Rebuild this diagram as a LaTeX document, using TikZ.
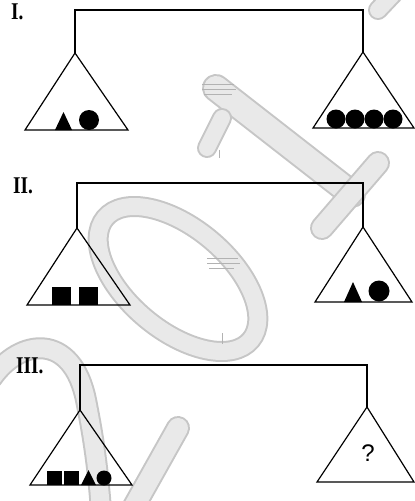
\documentclass[tikz,border=0pt]{standalone}
\usepackage{fontspec}
\newfontfamily\qfont{Liberation Sans}
\newfontfamily\lblfont{Liberation Serif}
\begin{document}
\begin{tikzpicture}[x=1pt,y=-1pt,
  beam/.style={line width=1.4pt, draw=black},
  pan/.style={line width=1.2pt, draw=black, line join=miter},
  wmedge/.style={draw=gray!45, line width=#1, line cap=round},
  wmfill/.style={draw=gray!17, line width=#1, line cap=round},
  wmline/.style={draw=gray!60, line width=1pt},
  lbl/.style={font=\lblfont\bfseries\fontsize{24}{24}\selectfont, xscale=0.8, inner sep=0pt},
  qmark/.style={font=\qfont\fontsize{24}{24}\selectfont, inner sep=0pt}]
\useasboundingbox (0,0) rectangle (415,501);

% ---------- watermark (light gray) ----------
\draw[wmedge=28pt] (216,88) -- (352,194);
\draw[wmfill=24pt] (216,88) -- (352,194);
\draw[wmedge=20pt] (222,118) -- (207,148);
\draw[wmfill=16pt] (222,118) -- (207,148);
\draw[wmedge=24pt] (378,163) -- (322,228);
\draw[wmfill=20pt] (378,163) -- (322,228);
\draw[wmedge=20pt] (395,-8) -- (378,10);
\draw[wmfill=16pt] (395,-8) -- (378,10);
\draw[draw=gray!45, line width=21pt, rotate around={-40:(178,279)}] (178,279) ellipse [x radius=95pt, y radius=51pt];
\draw[draw=gray!17, line width=17pt, rotate around={-40:(178,279)}] (178,279) ellipse [x radius=95pt, y radius=51pt];
\draw[wmedge=22pt] (-8,378) .. controls (20,338) and (72,332) .. (86,400) .. controls (94,440) and (98,470) .. (101,510);
\draw[wmfill=18pt] (-8,378) .. controls (20,338) and (72,332) .. (86,400) .. controls (94,440) and (98,470) .. (101,510);
\draw[wmedge=24pt] (178,428) -- (132,510);
\draw[wmfill=20pt] (178,428) -- (132,510);
\draw[wmline] (202,84) -- (234,84) (202,89) -- (236,89) (204,94) -- (232,94);
\draw[wmline] (207,258) -- (238,258) (207,263) -- (240,263) (209,268) -- (234,268);
\draw[wmline] (219,150) -- (219,158);
\draw[wmline] (222,333) -- (222,344);

% ---------- Balance I ----------
\node[lbl, anchor=base west] (L1) at (11,19) {I.};
\coordinate (p1) at (75,10);
\coordinate (q1) at (363,10);
\coordinate (a1) at (75,53);
\coordinate (c1) at (363,52);
\draw[beam] (a1) -- (p1) -- (q1) -- (c1);
\draw[pan] (a1) -- (25,130) -- (128,130) -- cycle;
\draw[pan] (c1) -- (313,128) -- (414,128) -- cycle;
\fill (55,130) -- (63.5,112) -- (72,130) -- cycle;
\fill (89,120) circle (10pt);
\foreach \cx in {336,355,374,393} \fill (\cx,119) circle (9.5pt);

% ---------- Balance II ----------
\node[lbl, anchor=base west] (L2) at (13,193) {II.};
\coordinate (p2) at (77,183);
\coordinate (q2) at (363,183);
\coordinate (a2) at (77,228);
\coordinate (c2) at (363,227);
\draw[beam] (a2) -- (p2) -- (q2) -- (c2);
\draw[pan] (a2) -- (27,305) -- (130,305) -- cycle;
\draw[pan] (c2) -- (315,302) -- (412,302) -- cycle;
\fill (52,287) rectangle (71,305);
\fill (79,287) rectangle (98,305);
\fill (344,302) -- (353,282) -- (362,302) -- cycle;
\fill (379,291) circle (10.5pt);

% ---------- Balance III ----------
\node[lbl, anchor=base west] (L3) at (16,373) {III.};
\coordinate (p3) at (80,365);
\coordinate (q3) at (367,365);
\coordinate (a3) at (80,410);
\coordinate (c3) at (367,407);
\draw[beam] (a3) -- (p3) -- (q3) -- (c3);
\draw[pan] (a3) -- (30,485) -- (132,485) -- cycle;
\draw[pan] (c3) -- (317,482) -- (414,482) -- cycle;
\fill (47,471) rectangle (62,485);
\fill (64,471) rectangle (79,485);
\fill (81,485) -- (88.5,470) -- (96,485) -- cycle;
\fill (104,478) circle (7.5pt);
\node[qmark] (Q) at (368,453) {?};
\end{tikzpicture}
\end{document}
